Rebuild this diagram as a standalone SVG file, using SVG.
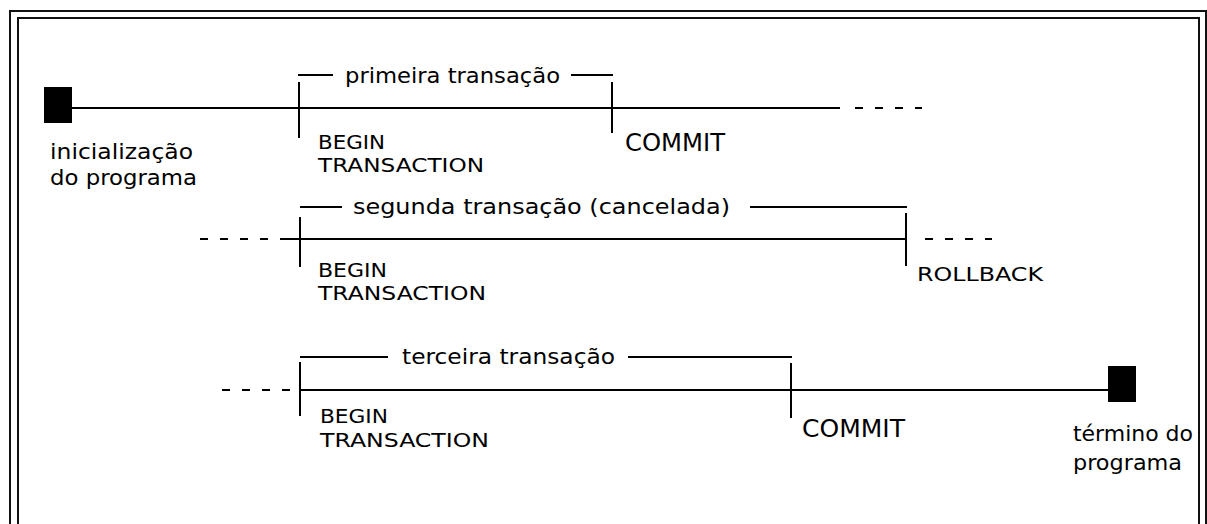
<svg xmlns="http://www.w3.org/2000/svg" width="1207" height="524" viewBox="0 0 1207 524">
  <style>
    .frame { fill: none; stroke: #111; stroke-width: 2; }
    .line { fill: none; stroke: #000; stroke-width: 2; }
    .dash { fill: none; stroke: #000; stroke-width: 2; stroke-dasharray: 8 12; }
    .tick { fill: none; stroke: #000; stroke-width: 2; }
    .mark { fill: #000; }
    text { font-family: "DejaVu Sans", "Liberation Sans", sans-serif; fill: #000; }
    .title { font-size: 21px; }
    .cmd { font-size: 19px; }
    .big { font-size: 24px; }
    .note { font-size: 21px; }
  </style>
  <rect width="1207" height="524" fill="#fff"/>

  <!-- double border, open at the bottom -->
  <g id="border">
    <path class="frame" d="M10,524 V11 H1206 V524"/>
    <path class="frame" d="M18,524 V18 H1199 V524"/>
  </g>

  <!-- time lines and brackets -->
  <g id="connectors">
    <!-- first run -->
    <line class="line" x1="72" y1="108" x2="840" y2="108"/>
    <line class="dash" x1="855" y1="108" x2="922" y2="108"/>
    <line class="line" x1="298" y1="75" x2="333" y2="75"/>
    <line class="line" x1="571" y1="75" x2="613" y2="75"/>
    <!-- second run -->
    <line class="dash" x1="200" y1="239" x2="268" y2="239"/>
    <line class="line" x1="280" y1="239" x2="906" y2="239"/>
    <line class="dash" x1="925" y1="239" x2="992" y2="239"/>
    <line class="line" x1="300" y1="207" x2="342" y2="207"/>
    <line class="line" x1="750" y1="207" x2="907" y2="207"/>
    <!-- third run -->
    <line class="dash" x1="222" y1="390" x2="290" y2="390"/>
    <line class="line" x1="300" y1="390" x2="1108" y2="390"/>
    <line class="line" x1="300" y1="357" x2="388" y2="357"/>
    <line class="line" x1="628" y1="357" x2="792" y2="357"/>
  </g>

  <!-- program start -->
  <g id="start">
    <rect class="mark" x="44" y="87" width="28" height="36"/>
    <text class="note" x="50" y="159" textLength="143" lengthAdjust="spacingAndGlyphs">inicialização</text>
    <text class="note" x="50" y="185" textLength="147" lengthAdjust="spacingAndGlyphs">do programa</text>
  </g>

  <!-- first transaction -->
  <g id="t1">
    <text class="title" x="345" y="83" textLength="215" lengthAdjust="spacingAndGlyphs">primeira transação</text>
  </g>
  <g id="t1-begin">
    <line class="tick" x1="299" y1="82" x2="299" y2="138"/>
    <text class="cmd" x="318" y="149" textLength="67" lengthAdjust="spacingAndGlyphs">BEGIN</text>
    <text class="cmd" x="318" y="172" textLength="166" lengthAdjust="spacingAndGlyphs">TRANSACTION</text>
  </g>
  <g id="t1-commit">
    <line class="tick" x1="612" y1="82" x2="612" y2="133"/>
    <text class="big" x="625" y="151" textLength="100" lengthAdjust="spacingAndGlyphs">COMMIT</text>
  </g>

  <!-- second transaction -->
  <g id="t2">
    <text class="title" x="353" y="214" textLength="377" lengthAdjust="spacingAndGlyphs">segunda transação (cancelada)</text>
  </g>
  <g id="t2-begin">
    <line class="tick" x1="300" y1="217" x2="300" y2="267"/>
    <text class="cmd" x="318" y="277" textLength="69" lengthAdjust="spacingAndGlyphs">BEGIN</text>
    <text class="cmd" x="318" y="300" textLength="168" lengthAdjust="spacingAndGlyphs">TRANSACTION</text>
  </g>
  <g id="t2-rollback">
    <line class="tick" x1="906" y1="213" x2="906" y2="266"/>
    <text class="cmd" x="917" y="281" textLength="126" lengthAdjust="spacingAndGlyphs">ROLLBACK</text>
  </g>

  <!-- third transaction -->
  <g id="t3">
    <text class="title" x="402" y="364" textLength="213" lengthAdjust="spacingAndGlyphs">terceira transação</text>
  </g>
  <g id="t3-begin">
    <line class="tick" x1="300" y1="362" x2="300" y2="416"/>
    <text class="cmd" x="320" y="423" textLength="68" lengthAdjust="spacingAndGlyphs">BEGIN</text>
    <text class="cmd" x="320" y="447" textLength="169" lengthAdjust="spacingAndGlyphs">TRANSACTION</text>
  </g>
  <g id="t3-commit">
    <line class="tick" x1="791" y1="363" x2="791" y2="418"/>
    <text class="big" x="802" y="437" textLength="103" lengthAdjust="spacingAndGlyphs">COMMIT</text>
  </g>

  <!-- program end -->
  <g id="end">
    <rect class="mark" x="1108" y="366" width="28" height="36"/>
    <text class="note" x="1073" y="441" textLength="120" lengthAdjust="spacingAndGlyphs">término do</text>
    <text class="note" x="1073" y="470" textLength="109" lengthAdjust="spacingAndGlyphs">programa</text>
  </g>
</svg>
